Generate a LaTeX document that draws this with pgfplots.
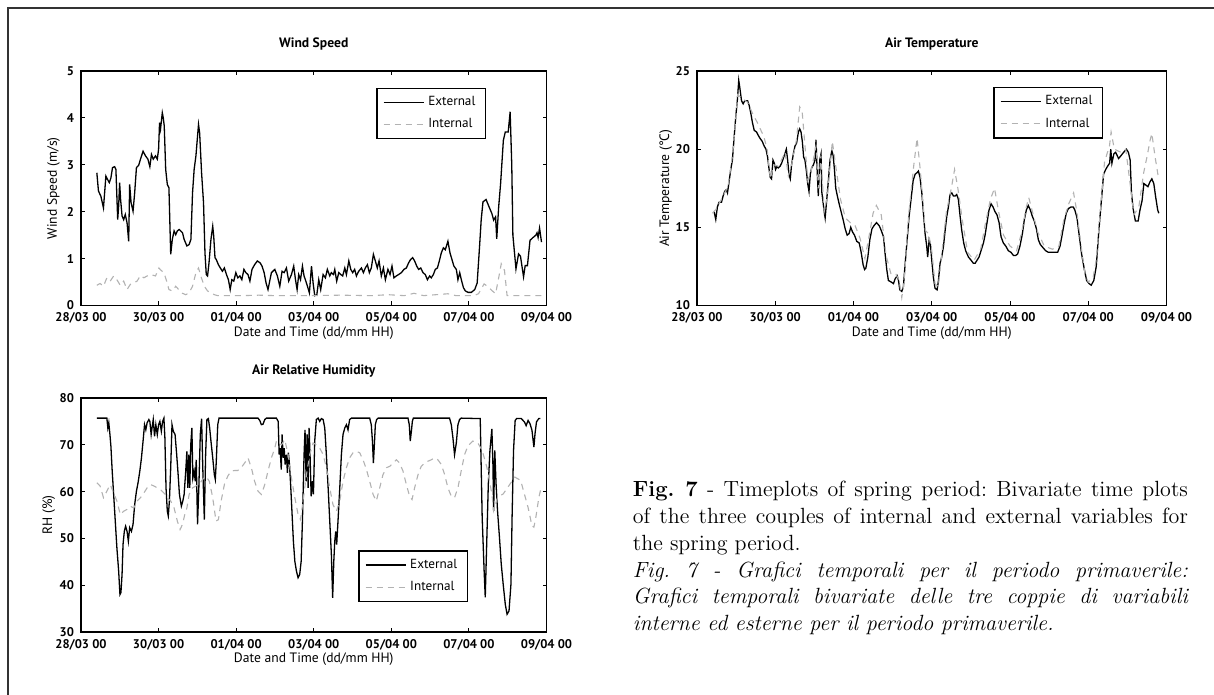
\documentclass[border=0pt]{standalone}
\usepackage{fontspec}
\usepackage{pgfplots}
\pgfplotsset{compat=1.18}
\newfontfamily\plotfont{PT Sans}
\definecolor{intgray}{RGB}{178,178,178}
\tikzset{
  ext/.style={black, line width=0.65pt},
  int/.style={intgray, line width=0.55pt, dash pattern=on 3pt off 2.5pt},
}
\pgfplotsset{
  myaxis/.style={
    scale only axis,
    xmin=0, xmax=288,
    xtick={0,48,96,144,192,240,288},
    xticklabels={28/03 00,30/03 00,01/04 00,03/04 00,05/04 00,07/04 00,09/04 00},
    axis line style={line width=0.7pt},
    major tick length=2pt,
    every tick/.style={black, line width=0.5pt},
    tick label style={font=\plotfont\bfseries\fontsize{6.3}{7}\selectfont, /pgf/number format/assume math mode=true},
    label style={font=\plotfont\fontsize{6.8}{7.8}\selectfont},
    title style={font=\plotfont\bfseries\fontsize{6.8}{7.8}\selectfont, at={(axis description cs:0.5,1.062)}, anchor=center},
    xlabel style={at={(axis description cs:0.5,-0.117)}, anchor=center},
    legend style={font=\plotfont\fontsize{6.6}{7.6}\selectfont, draw=black, line width=0.6pt, inner xsep=3pt, inner ysep=2pt, row sep=1pt},
    legend cell align=left,
    legend image code/.code={\draw[##1] (0pt,0pt) -- (20pt,0pt);},
  }
}
\begin{document}
\begin{tikzpicture}
\path[use as bounding box] (0pt,0pt) rectangle (607pt,347.5pt);
\draw[line width=0.75pt, black!80] (4pt,0pt) -- (4pt,343.5pt) -- (607pt,343.5pt);

% ---------------- Wind Speed ----------------
\begin{axis}[myaxis,
  at={(40.5pt,194.75pt)}, anchor=south west,
  width=232.75pt, height=117.25pt,
  ymin=0, ymax=5, ytick={0,1,2,3,4,5},
  title={Wind Speed},
  xlabel={Date and Time (dd/mm HH)},
  ylabel={Wind Speed (m/s)},
  ylabel style={at={(axis description cs:-0.059,0.5)}, anchor=center},
  legend style={at={(axis description cs:0.870,0.9296)}, anchor=north east},
]
\addplot[ext] coordinates {
(9.8,2.83)(10.8,2.44)(12.3,2.33)(13.9,2.08)(15.4,2.76)(16.4,2.69)(17.5,2.62)(18.5,2.72)(19.5,2.94)(20.8,2.96)(21.6,2.90)(22.7,1.83)(23.3,2.12)(23.9,2.62)(24.5,2.26)(25.4,1.91)(26.4,1.83)(27.4,1.94)(28.5,1.76)(29.5,1.37)(30.1,2.58)(31.0,2.19)(32.2,2.01)(33.2,2.40)(34.3,2.94)(35.7,2.99)(36.8,3.12)(38.4,3.29)(39.9,3.19)(41.4,3.12)(42.6,2.96)(43.6,3.22)(44.7,3.12)(46.1,3.19)(47.2,3.12)(48.0,3.33)(48.6,3.90)(49.2,3.76)(50.3,4.11)(50.9,4.00)(51.5,3.83)(52.4,2.90)(53.4,2.58)(54.4,2.51)(55.5,1.09)(56.5,1.41)(57.6,1.59)(58.6,1.51)(59.6,1.59)(60.7,1.62)(61.7,1.59)(62.8,1.55)(63.8,1.41)(65.5,1.27)(66.9,1.30)(68.0,1.41)(69.0,2.40)(70.0,2.90)(71.1,3.19)(72.1,3.61)(72.7,3.86)(73.4,3.68)(74.6,2.83)(75.8,2.19)(76.7,1.12)(77.5,0.66)(78.3,0.63)(79.2,0.91)(80.4,1.41)(81.5,1.69)(82.1,1.48)(82.9,1.02)(83.7,0.98)(85.0,0.87)(86.2,0.80)(87.5,0.73)(88.7,0.80)(90.0,0.66)(91.2,0.55)(92.3,0.34)(93.3,0.55)(94.5,0.52)(95.8,0.70)(97.0,0.59)(98.3,0.63)(99.5,0.55)(100.8,0.77)(102.0,0.70)(103.3,0.66)(104.5,0.52)(105.8,0.77)(107.4,0.87)(109.1,0.95)(110.8,0.91)(112.0,0.84)(113.3,0.70)(114.5,0.48)(115.7,0.34)
(117.8,0.70)(119.9,0.77)(121.5,0.63)(123.0,0.41)(124.4,0.73)(125.7,0.70)(127.1,0.80)(128.5,0.52)(130.2,0.66)(131.6,0.84)(132.7,0.55)(133.7,0.34)(134.7,0.66)(135.8,0.55)(137.0,0.84)(138.0,0.63)(139.1,0.52)(140.1,0.41)(141.3,0.27)(142.6,0.84)(143.6,0.48)(144.6,0.21)(145.9,0.23)(147.1,0.55)(148.3,0.34)(149.8,0.66)(151.2,0.59)(152.4,0.77)(153.9,0.63)(154.9,0.70)(156.2,0.66)(157.0,0.77)(158.2,0.52)(159.5,0.70)(160.7,0.66)(161.9,0.63)(163.2,0.80)(164.2,0.66)(165.7,0.95)(166.9,0.77)(168.1,0.70)(169.3,0.77)(170.4,0.63)(171.8,0.73)(173.5,0.80)(174.7,0.70)(175.9,0.80)(177.2,0.87)(178.4,0.70)(179.6,0.80)(180.9,1.09)(182.1,0.95)(183.3,0.80)(184.4,0.95)(185.8,0.63)(187.1,0.80)(188.3,0.55)(189.9,0.77)(191.2,0.66)(192.4,0.84)(193.6,0.59)(195.1,0.63)(196.5,0.66)(198.2,0.70)(199.8,0.77)(201.3,0.80)(202.7,0.91)(203.9,0.98)(205.2,1.02)(206.4,0.95)(207.7,0.84)(208.9,0.77)(210.2,0.80)(211.6,0.70)(213.0,0.66)(214.3,0.55)(215.7,0.63)(216.7,0.59)(218.0,0.66)(219.2,0.77)(220.5,0.80)(221.7,0.95)(222.9,1.12)(224.2,1.23)(225.4,1.19)(227.0,1.37)(228.3,1.12)(229.5,0.98)(230.7,0.84)(232.2,0.77)(233.2,0.55)(234.3,0.70)(235.3,0.55)(236.6,0.38)(237.8,0.31)(239.5,0.28)(241.5,0.28)(243.6,0.34)(245.1,0.48)
(246.6,1.27)(247.6,1.83)(248.7,2.21)(250.6,2.26)(252.5,2.10)(254.2,1.96)(255.3,1.82)(256.5,1.89)(257.2,1.42)(258.4,2.10)(259.6,2.60)(261.3,3.52)(262.5,3.70)(264.3,3.70)(265.5,4.13)(266.5,3.00)(267.2,1.50)(269.1,0.78)(270.7,1.10)(271.9,1.05)(273.8,0.61)(274.8,0.85)(276.2,0.85)(277.8,1.39)(279.7,1.45)(281.4,1.50)(282.1,1.55)(282.8,1.45)(283.7,1.65)(284.9,1.35)
};
\addlegendentry{External}
\addplot[int] coordinates {
(9.8,0.43)(11.8,0.47)(13.9,0.41)(16.0,0.59)(18.1,0.52)(20.2,0.63)(22.2,0.55)(24.3,0.43)(26.4,0.52)(28.5,0.34)(30.5,0.45)(32.6,0.48)(34.7,0.52)(36.8,0.64)(38.9,0.59)(40.9,0.63)(43.0,0.66)(46.1,0.63)(48.2,0.80)(49.2,0.76)(51.3,0.70)(53.0,0.52)(54.4,0.34)(56.5,0.31)(58.6,0.41)(60.7,0.33)(62.8,0.26)(64.8,0.23)(66.9,0.27)(69.0,0.41)(71.1,0.70)(72.7,0.80)(74.2,0.62)(76.3,0.41)(78.3,0.31)(80.4,0.27)(82.5,0.23)(84.6,0.21)(100,0.21)(110,0.22)(120,0.21)(140,0.21)(160,0.22)(180,0.21)(190,0.23)(200,0.21)(206,0.26)(212,0.21)(227,0.25)(232,0.21)(243,0.21)(245.9,0.25)(249.4,0.46)(251.8,0.40)(254.2,0.32)(256.5,0.25)(258.9,0.68)(260.0,0.89)(262.0,0.75)(263.6,0.21)(266.0,0.21)(285,0.21)
};
\addlegendentry{Internal}
\end{axis}

% ---------------- Air Temperature ----------------
\begin{axis}[myaxis,
  at={(348.5pt,194.75pt)}, anchor=south west,
  width=234.75pt, height=117.25pt,
  ymin=10, ymax=25, ytick={10,15,20,25},
  title={Air Temperature},
  xlabel={Date and Time (dd/mm HH)},
  ylabel={Air Temperature (°C)},
  ylabel style={at={(axis description cs:-0.0665,0.5)}, anchor=center},
  legend style={at={(axis description cs:0.8647,0.932)}, anchor=north east},
]
\addplot[ext] coordinates {
(10.5,16.0)(11.5,15.5)(12.5,16.3)(13.5,16.6)(15.0,16.6)(16.0,17.0)(17.0,17.3)(18.0,17.4)(18.7,17.2)(19.5,17.8)(20.7,18.7)(21.7,19.3)(22.8,20.8)(23.8,22.1)(24.8,23.2)(25.6,24.4)(26.3,23.9)(27.3,23.1)(28.3,22.9)(29.3,23.1)(31.0,23.1)(32.0,22.8)(33.0,22.3)(34.0,21.7)(35.1,21.2)(36.5,21.1)(37.5,20.9)(38.6,20.7)(40.0,20.5)(41.2,20.2)(42.3,20.0)(43.3,19.5)(44.1,18.8)(44.9,18.2)(45.7,18.1)(46.6,19.3)(47.4,19.1)(48.2,18.7)(49.0,18.9)(49.8,18.8)(50.9,18.9)(51.9,19.1)(52.9,19.4)(53.9,19.7)(54.8,20.0)(55.6,19.3)(56.4,18.4)(57.2,18.1)(58.0,19.0)(59.1,19.7)(60.1,20.2)(61.1,20.4)(62.2,21.1)(63.0,21.3)(63.8,21.1)(64.6,20.5)(65.4,19.5)(66.2,19.3)(67.1,18.6)(67.9,17.8)(68.7,17.3)(69.5,18.4)(70.3,18.8)(71.4,19.0)(72.4,19.3)(73.0,20.6)(73.6,18.9)(74.4,17.0)(75.3,19.3)(76.1,19.7)(76.5,17.3)(77.1,16.8)(77.9,16.1)(78.6,15.6)(79.6,16.8)(80.6,18.0)(81.6,19.3)(82.7,19.9)(83.5,19.6)(84.3,18.7)(85.1,17.5)(86.1,17.0)(87.2,16.5)(88.4,16.0)(89.6,15.5)(90.9,14.9)(92.1,14.5)(93.3,14.6)(94.3,15.0)(95.4,14.7)(96.6,14.5)(98.0,14.1)(99.5,14.0)(100.7,13.4)(101.9,12.6)(102.8,12.3)(103.6,12.4)(104.8,13.1)(106.0,14.2)(107.3,14.9)(108.5,15.1)(110.1,15.3)(111.8,15.1)(113.0,14.8)
(114.4,14.4)(115.4,13.3)(116.4,12.3)(117.4,11.6)(119.1,11.5)(120.5,11.4)(121.5,11.7)(122.8,11.9)(123.6,11.6)(124.4,11.0)(125.6,10.9)(126.6,11.2)(127.7,12.7)(128.9,14.2)(130.1,15.7)(131.3,16.8)(132.6,18.0)(133.8,18.4)(135.0,18.5)(135.8,18.6)(136.8,18.2)(137.9,17.2)(138.9,15.9)(139.9,14.6)(140.9,13.8)(141.5,13.1)(142.4,14.2)(143.2,13.9)(144.0,12.9)(145.0,11.8)(146.0,11.1)(147.3,11.0)(148.1,11.6)(149.1,12.7)(150.1,13.1)(151.2,13.8)(152.2,14.8)(153.2,15.7)(154.2,16.3)(155.2,17.1)(156.3,17.2)(157.3,17.0)(158.3,17.0)(159.3,17.1)(160.3,16.8)(161.4,15.7)(162.4,14.8)(163.6,14.0)(164.8,13.5)(166.5,13.1)(168.1,12.9)(169.5,12.7)(170.6,12.7)(171.8,12.9)(173.0,13.1)(174.2,13.5)(175.7,14.0)(176.7,14.5)(177.9,15.3)(179.1,16.1)(180.4,16.5)(181.6,16.3)(182.8,16.0)(184.0,15.8)(185.3,15.3)(186.5,14.4)(187.9,14.0)(189.4,13.8)(191.0,13.5)(192.6,13.4)(194.1,13.2)(195.5,13.2)(196.7,13.3)(198.1,13.8)(199.6,14.6)(200.8,15.5)(202.0,16.1)(203.2,16.4)(204.5,16.1)(205.7,15.7)(206.9,15.4)(208.2,14.9)(209.4,14.2)(210.6,13.9)(212.2,13.7)(213.9,13.5)(215.5,13.4)(217.6,13.4)(219.6,13.4)(221.2,13.4)(222.7,13.8)(224.1,14.6)(225.3,15.3)(226.5,15.9)(227.8,16.2)(229.4,16.3)(230.8,16.3)(231.8,16.1)(233.1,15.6)(234.3,14.6)(235.9,13.3)(237.6,12.3)(239.0,11.6)
(240.5,11.4)(241.8,11.3)(243.4,11.6)(244.9,12.5)(246.5,14.8)(248.2,16.9)(249.4,18.4)(250.7,18.7)(251.8,18.9)(253.1,19.1)(253.8,20.0)(254.5,19.1)(255.7,19.7)(256.8,19.8)(258.6,19.4)(260.2,19.6)(261.7,19.8)(263.4,20.0)(264.6,19.8)(265.7,19.3)(266.5,17.2)(267.5,16.2)(268.9,15.4)(270.6,15.4)(271.7,16.1)(273.0,16.7)(274.1,17.8)(275.4,17.7)(276.6,17.6)(277.8,17.9)(279.0,18.1)(280.2,17.8)(281.4,16.9)(282.6,16.1)(283.3,15.9)
};
\addlegendentry{External}
\addplot[int] coordinates {
(9.5,15.9)(12,16.2)(16,17.0)(19,17.6)(22,19.8)(25,23.5)(27,23.3)(31,23.0)(34,22.3)(37,21.7)(41,20.8)(43,20.0)(45,18.1)(47,19.0)(50,18.9)(54,19.8)(56,18.3)(58,19.0)(61,20.6)(63,22.7)(64.5,22.4)(66,20.5)(68,18.0)(70,18.6)(73,20.2)(74.5,17.5)(76,19.6)(78,16.0)(80,17.0)(83,20.5)(85,19.0)(88,16.8)(91,15.6)(94,15.3)(97,15.1)(100,14.3)(103,13.0)(106,14.7)(108,15.9)(110,16.4)(113,15.8)(116,13.2)(119,12.0)(122,12.0)(124,11.6)(125.6,10.5)(127,11.5)(130,16.0)(133,19.0)(135,20.7)(137,18.6)(140,14.8)(142,14.6)(144,13.5)(146,11.4)(148,11.2)(150,13.2)(153,16.0)(156,17.5)(158,18.7)(160,17.5)(163,15.3)(166,13.4)(170,12.9)(174,13.6)(177,15.3)(180,16.8)(182.5,17.5)(185,16.0)(188,14.5)(192,13.8)(196,13.5)(199,14.6)(202,16.3)(203.5,16.9)(206,15.9)(209,14.7)(213,13.8)(218,13.6)(222,13.8)(225,15.5)(228,16.5)(231,17.2)(233,16.0)(236,13.5)(238,12.0)(240,11.5)(243,11.8)(245,13.0)(247,15.5)(250,19.2)(253,20.2)(254,21.1)(256,20.0)(260,19.8)(263,20.0)(266,17.5)(268,15.8)(271,16.3)(274,18.5)(276,19.5)(278,20.6)(279,21.0)(281,19.5)(283,18.2)
};
\addlegendentry{Internal}
\end{axis}

% ---------------- Air Relative Humidity ----------------
\begin{axis}[myaxis,
  at={(40.5pt,31.5pt)}, anchor=south west,
  width=232.75pt, height=117pt,
  ymin=30, ymax=80, ytick={30,40,50,60,70,80},
  title={Air Relative Humidity},
  xlabel={Date and Time (dd/mm HH)},
  ylabel={RH (\%)},
  ylabel style={at={(axis description cs:-0.069,0.5)}, anchor=center},
  legend style={at={(axis description cs:0.831,0.128)}, anchor=south east},
]
\addplot[ext] coordinates {
(9.8,75.7)(16.0,75.7)(16.6,73.6)(17.2,74.7)(17.9,72.2)(18.5,69.7)(19.3,64.4)(20.2,59.4)(21.2,53.7)(22.2,48.0)(23.3,43.0)(24.1,38.0)(24.7,38.4)(25.4,42.3)(26.0,48.7)(26.8,51.5)(27.6,52.6)(28.5,51.5)(29.3,49.4)(30.1,52.3)(31.2,51.5)(32.2,53.0)(33.2,57.2)(34.3,60.1)(35.3,61.9)(36.4,64.4)(37.4,67.2)(38.4,70.8)(39.3,74.3)(40.1,73.2)(40.9,74.7)(42.0,75.4)(42.6,75.0)(43.4,72.2)(44.1,74.0)(44.7,75.4)(45.5,71.8)(46.3,74.3)(47.2,72.2)(48.0,74.3)(48.8,75.0)(49.7,72.9)(50.5,75.0)(51.3,75.7)(51.9,71.5)(52.6,60.8)(53.4,55.8)(54.0,54.8)(54.7,58.0)(55.5,65.1)(56.3,74.3)(57.1,72.9)(58.2,72.2)(59.2,67.9)(60.1,63.6)(60.9,59.4)(62.1,56.9)(63.0,58.0)(63.8,59.4)(64.8,64.4)(65.5,68.6)(66.1,60.8)(66.7,67.9)(67.3,60.8)(67.9,70.0)(68.6,73.6)(69.2,62.9)(70.0,64.4)(70.7,62.2)(71.3,66.8)(72.1,53.0)(72.9,60.8)(73.8,72.2)(74.6,75.6)(75.4,64.4)(76.3,54.0)(77.1,67.9)(77.9,75.4)(78.8,75.6)(79.6,73.6)(80.4,70.8)(81.5,67.2)(82.5,63.6)(83.1,62.6)(83.7,66.5)(84.6,74.3)(85.4,75.7)(109.5,75.7)(110.6,75.2)(111.6,74.3)(112.6,74.4)(113.7,75.4)(114.7,75.7)
(120.9,75.7)(122.0,75.0)(122.6,67.9)(123.2,69.3)(123.9,64.7)(124.4,72.2)(125.1,67.2)(125.7,69.3)(126.3,65.8)(127.1,67.9)(127.7,64.0)(128.3,68.3)(129.0,65.8)(129.8,60.8)(130.6,55.1)(131.4,49.4)(132.3,45.1)(133.3,43.0)(134.3,41.6)(135.3,42.3)(136.2,45.1)(137.0,53.7)(137.6,62.2)(138.0,67.9)(138.6,73.2)(139.3,62.2)(139.9,72.2)(140.5,60.8)(141.1,73.6)(141.7,67.9)(142.4,59.0)(143.0,62.2)(143.8,59.4)(144.6,70.8)(145.6,75.4)(146.7,75.7)(147.7,75.0)(148.7,75.6)(149.8,75.4)(150.8,73.6)(151.8,67.9)(152.9,60.8)(153.9,53.7)(154.9,46.6)(155.7,37.3)(156.4,45.1)(157.0,49.4)(157.6,51.5)(158.2,48.7)(159.0,53.7)(160.1,60.8)(161.1,67.9)(162.1,72.2)(163.2,73.6)(164.2,74.3)(165.2,73.2)(166.2,75.4)(167.3,75.7)(178.6,75.7)(179.6,74.3)(180.3,70.8)(180.9,66.1)(181.5,70.0)(182.1,74.3)(182.9,75.4)(183.8,75.7)(202.3,75.7)(203.1,74.3)(203.7,70.8)(204.4,72.9)(205.0,75.0)(205.6,75.7)(228.0,75.7)(229.1,74.3)(230.1,71.5)(231.1,67.9)(232.2,70.4)(233.2,74.3)(234.2,75.4)(235.2,75.7)
(247.0,75.6)(248.2,54.5)(249.4,43.1)(250.1,37.4)(251.1,50.2)(252.0,61.6)(253.0,68.8)(254.2,73.4)(254.8,66.6)(255.3,55.9)(256.0,68.8)(256.8,61.6)(257.7,55.9)(258.9,50.2)(260.0,44.5)(261.2,40.2)(262.5,35.9)(263.6,33.8)(264.8,34.5)(266.0,40.2)(266.7,54.5)(267.6,68.8)(268.6,75.2)(269.5,75.6)(272.4,75.6)(274.3,74.9)(275.4,74.1)(276.6,75.2)(277.8,74.5)(279.0,73.1)(280.2,69.5)(280.9,72.4)(281.8,74.9)(283.2,75.6)(284.2,75.6)
};
\addlegendentry{External}
\addplot[int] coordinates {
(9.8,61.9)(11.8,61.2)(13.9,58.7)(16.0,60.1)(18.1,61.5)(20.2,59.7)(22.2,58.0)(24.3,55.1)(26.4,55.8)(28.5,56.2)(30.5,56.9)(32.6,56.5)(34.7,58.0)(36.8,58.7)(38.9,59.7)(40.9,60.8)(43.0,61.5)(45.1,61.2)(47.2,60.8)(49.2,60.4)(51.3,59.7)(53.4,58.7)(55.5,58.0)(57.6,56.5)(59.6,53.7)(61.3,51.9)(62.8,53.0)(64.2,55.1)(65.5,56.5)(66.9,59.4)(69.0,60.8)(71.1,61.2)(73.1,61.5)(75.2,62.6)(77.3,63.3)(79.4,62.2)(81.5,58.7)(83.5,53.7)(85.0,54.0)(86.7,58.0)(88.7,61.5)(90.8,63.3)(92.9,64.4)(95.0,64.5)(97.0,64.5)(99.1,65.1)(101.2,66.1)(103.3,67.2)(105.4,65.1)(107.4,62.2)(109.5,60.1)(111.6,59.4)(113.7,61.5)(115.7,64.4)(117.8,67.2)(119.9,69.3)(120.9,70.8)(124.0,70.0)(126.1,71.1)(128.1,67.9)(130.2,62.9)(132.3,58.7)(134.3,55.1)(135.8,54.0)(137.4,58.0)(139.5,63.6)(141.5,67.9)(143.6,70.4)(145.6,70.0)(147.7,69.3)(149.8,67.9)(151.8,65.1)(153.9,60.8)(155.9,57.2)(158.0,55.8)(160.1,58.0)(162.1,62.2)(164.2,65.1)(166.2,67.2)(168.3,68.3)(170.4,68.6)(172.4,68.3)(174.5,66.8)(176.6,64.7)(178.6,62.2)(180.7,59.4)(182.7,58.0)(184.8,60.8)(186.8,63.6)(188.9,65.1)(191.0,65.4)(193.0,66.1)(195.1,66.8)(197.1,66.1)(199.2,64.4)(201.3,61.5)(203.3,59.0)(204.8,58.3)(206.4,60.8)(208.5,63.6)(210.5,65.4)(212.6,66.1)(214.7,66.5)(216.7,66.8)(218.8,67.2)(220.8,66.8)(222.9,65.8)(225.0,63.6)(227.0,60.8)(229.1,59.0)(231.1,58.7)(233.2,60.8)(235.2,64.4)(237.3,67.9)(239.3,69.7)(242.4,70.8)(245.5,70.4)(248.2,68.8)(251.1,65.2)(254.2,59.5)(255.3,55.9)(257.7,58.8)(261.2,59.5)(264.8,61.3)(268.4,63.1)(272.0,62.4)(274.3,59.5)(276.6,56.6)(279.0,52.7)(280.2,52.4)(281.4,54.5)(283.3,58.8)(284.5,60.6)
};
\addlegendentry{Internal}
\end{axis}

% ---------------- Caption ----------------
\node[anchor=base west, text width=277.5pt, inner sep=0pt, align=justify, font=\fontsize{11}{13.35}\selectfont] at (316.25pt,99pt) {\frenchspacing\textbf{Fig. 7} - Timeplots of spring period: Bivariate time plots\linebreak of the three couples of internal and external variables for\linebreak the spring period.\par
{\itshape Fig. 7 - Grafici temporali per il periodo primaverile:\linebreak Grafici temporali bivariate delle tre coppie di variabili\linebreak interne ed esterne per il periodo primaverile.\par}};
\end{tikzpicture}
\end{document}
